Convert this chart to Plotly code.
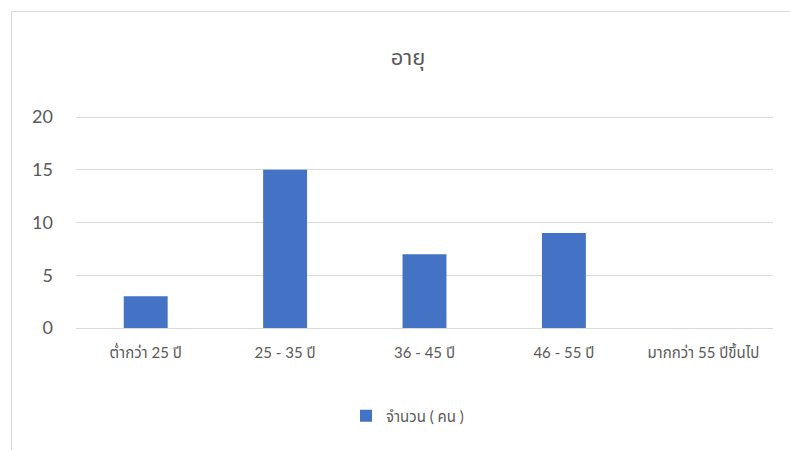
import plotly.graph_objects as go

# Age groups and head counts
categories = ["ต่ำกว่า 25 ปี", "25 - 35 ปี", "36 - 45 ปี", "46 - 55 ปี", "มากกว่า 55 ปีขึ้นไป"]
counts = [3, 15, 7, 9, 0]
series_name = "จำนวน ( คน )"
chart_title = "อายุ"
y_ticks = [0, 5, 10, 15, 20]

W, H = 790, 450
ML, MR, MT, MB = 76, 17, 113, 122
pw = W - ML - MR
ph = H - MT - MB
unit_px = 211 / 20  # pixels per count on the value axis
y_top = ph / unit_px

def px_to_paper_x(px):
    return (px - ML) / pw

def px_to_paper_y(py):
    return (H - MB - py) / ph

font_family = "Lato, Noto Sans Thai, sans-serif"
grey = "#595959"
grid = "#d9d9d9"

fig = go.Figure()
fig.add_trace(go.Bar(
    x=categories,
    y=counts,
    name=series_name,
    marker=dict(color="#4472c4", line=dict(width=0)),
    showlegend=True,
))

fig.update_layout(
    width=W, height=H,
    margin=dict(l=ML, r=MR, t=MT, b=MB),
    paper_bgcolor="white",
    plot_bgcolor="white",
    bargap=0.685,
    title=dict(
        text=chart_title,
        x=408 / W, xanchor="center", xref="container",
        y=1 - 57 / H, yanchor="middle", yref="container",
        font=dict(family=font_family, size=22, color=grey),
    ),
    xaxis=dict(
        showgrid=False,
        showline=False,
        zeroline=False,
        ticks="",
        ticklabelstandoff=14,
        tickfont=dict(family=font_family, size=15, color=grey),
    ),
    yaxis=dict(
        range=[0, y_top],
        tickvals=y_ticks,
        showgrid=True,
        gridcolor=grid,
        gridwidth=1,
        zeroline=True,
        zerolinecolor=grid,
        zerolinewidth=1,
        showline=False,
        ticks="",
        ticklabelstandoff=22,
        tickfont=dict(family=font_family, size=18, color=grey),
    ),
    legend=dict(
        orientation="h",
        x=px_to_paper_x(346), xanchor="left",
        y=px_to_paper_y(416), yanchor="middle",
        font=dict(family=font_family, size=15, color=grey),
        itemwidth=30,
    ),
    shapes=[dict(
        type="rect",
        xref="paper", yref="paper",
        x0=px_to_paper_x(11.5), x1=px_to_paper_x(820),
        y0=px_to_paper_y(480), y1=px_to_paper_y(11.5),
        line=dict(color=grid, width=1),
        fillcolor="rgba(0,0,0,0)",
        layer="below",
    )],
)

fig.write_html("out.html")
